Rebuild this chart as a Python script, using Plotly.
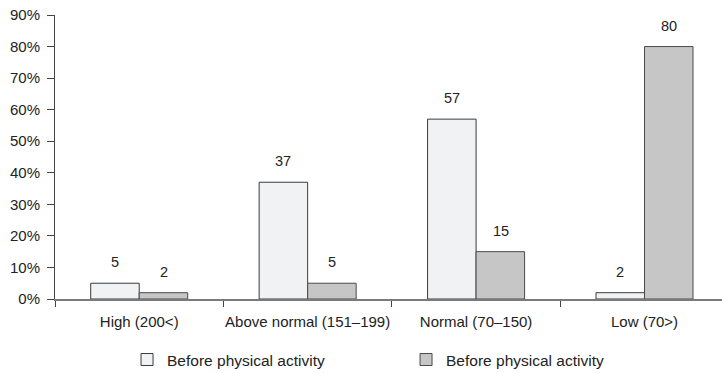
import plotly.graph_objects as go

categories = ["High (200<)", "Above normal (151–199)", "Normal (70–150)", "Low (70>)"]
before_vals = [5, 37, 57, 2]
after_vals = [2, 5, 15, 80]
series_names = ["Before physical activity", "Before physical activity"]
y_ticks = [0, 10, 20, 30, 40, 50, 60, 70, 80, 90]
y_tick_text = [f"{v}%" for v in y_ticks]

FONT = "Liberation Sans, Arial, sans-serif"

fig = go.Figure()
fig.add_trace(go.Bar(
    x=categories, y=before_vals, name=series_names[0],
    marker=dict(color="#f1f2f3", line=dict(color="#3a3a3a", width=1)),
))
fig.add_trace(go.Bar(
    x=categories, y=after_vals, name=series_names[1],
    marker=dict(color="#c6c6c6", line=dict(color="#4a4a4a", width=1)),
))

# value labels above each bar
annotations = []
for i, (b, a) in enumerate(zip(before_vals, after_vals)):
    for off, v in ((-0.145, b), (0.145, a)):
        annotations.append(dict(
            x=i + off, y=v, xref="x", yref="y", text=str(v), showarrow=False,
            yanchor="bottom", yshift=11, font=dict(size=14.5, color="#222", family=FONT),
        ))

fig.update_layout(
    width=722, height=373,
    margin=dict(l=55, r=0, t=15, b=74),
    paper_bgcolor="white", plot_bgcolor="white",
    barmode="group", bargap=0.424, bargroupgap=0,
    font=dict(family=FONT, size=15, color="#222"),
    showlegend=True,
    legend=dict(
        orientation="h", x=0.108, y=0.035, xanchor="left", yanchor="middle",
        yref="container",
        entrywidth=234, entrywidthmode="pixels",
        font=dict(size=15.5, color="#222", family=FONT),
    ),
    annotations=annotations,
)
fig.update_xaxes(
    type="category", range=[-0.5, 3.46],
    showline=True, linecolor="#7a7a7a", linewidth=1.5,
    ticks="outside", tickson="boundaries", ticklen=6, tickcolor="#444",
    showgrid=False, tickangle=0, ticklabelstandoff=8,
    tickfont=dict(size=15, family=FONT, color="#222"),
)
fig.update_yaxes(
    range=[0, 90], tickvals=y_ticks, ticktext=y_tick_text,
    showline=True, linecolor="#444", linewidth=1,
    ticks="outside", ticklen=7, tickcolor="#444",
    showgrid=False, zeroline=False, ticklabelstandoff=4,
    tickfont=dict(size=15, family=FONT, color="#222"),
)

fig.write_html("out.html")
